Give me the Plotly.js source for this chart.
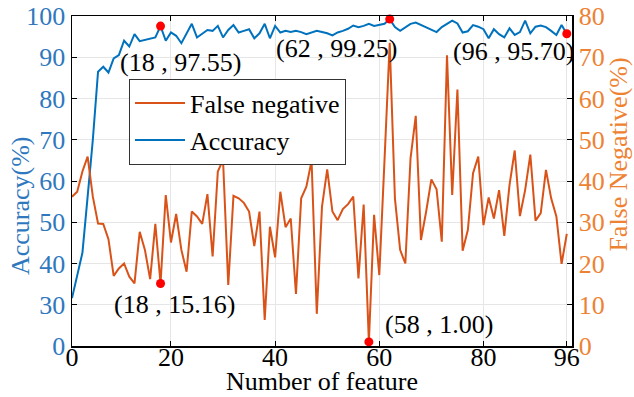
<!DOCTYPE html>
<html>
<head>
<meta charset="utf-8">
<script src="https://cdn.plot.ly/plotly-3.0.1.min.js"></script>
<style>html,body{margin:0;padding:0;background:#fff;}#chart{width:634px;height:397px;}</style>
</head>
<body>
<div id="chart"></div>
<script>
// Number of features (x) for each observation
const features = Array.from({length: 96}, (_, k) => k + 1);

// Accuracy (%)
const accuracy = [
  31.6, 36.8, 42.6, 56.2, 70.0, 86.5, 87.7, 86.3, 89.7, 90.5,
  94.0, 92.6, 95.6, 93.9, 94.2, 94.5, 94.8, 97.55, 94.0, 96.0,
  95.2, 93.4, 95.8, 98.1, 94.8, 95.6, 96.6, 96.4, 97.6, 94.8,
  96.6, 97.8, 96.0, 96.4, 96.8, 94.6, 95.8, 98.1, 94.6, 97.6,
  96.0, 96.4, 96.1, 96.4, 96.1, 95.6, 96.0, 96.4, 96.1, 95.8,
  95.3, 96.0, 96.4, 96.9, 97.7, 97.3, 97.6, 98.1, 97.6, 97.9,
  98.1, 99.25, 97.3, 96.4, 97.3, 98.1, 98.4, 97.8, 97.3, 96.8,
  96.1, 97.3, 98.2, 98.9, 98.2, 96.0, 96.3, 97.8, 97.4, 96.8,
  94.6, 96.8, 95.6, 94.8, 97.0, 95.4, 96.1, 98.9, 95.8, 97.4,
  97.7, 97.3, 96.4, 95.4, 97.8, 95.70
];

// False negative (%)
const falseNegative = [
  36.2, 37.4, 42.3, 45.9, 36.2, 29.7, 29.6, 25.9, 17.0, 18.8,
  20.0, 16.8, 15.2, 27.7, 23.3, 16.2, 29.6, 15.16, 36.6, 25.1,
  32.0, 23.3, 18.0, 32.6, 31.4, 29.6, 36.8, 21.7, 42.3, 45.1,
  14.8, 36.4, 35.8, 34.7, 32.6, 24.2, 32.6, 6.3, 28.9, 21.5,
  37.4, 28.8, 30.9, 12.6, 35.8, 38.6, 44.9, 7.8, 33.8, 42.8,
  32.6, 30.5, 33.2, 34.4, 36.2, 16.4, 34.3, 1.0, 31.8, 17.2,
  45.0, 73.5, 35.8, 23.3, 20.0, 45.5, 55.8, 25.7, 32.6, 40.4,
  38.0, 25.3, 70.5, 36.6, 62.2, 23.1, 28.1, 41.9, 45.9, 29.3,
  36.0, 30.9, 37.8, 26.7, 39.0, 47.4, 31.5, 37.8, 46.4, 30.4,
  32.2, 42.7, 35.8, 31.4, 19.9, 27.2
];

// Highlighted points
const accMarkX = [18, 62, 96];
const accMarkY = [97.55, 99.25, 95.70];
const fnMarkX = [18, 58];
const fnMarkY = [15.16, 1.00];

// Axis ticks
const xTickVals = [1, 20, 40, 60, 80, 96];
const xTickText = ['0', '20', '40', '60', '80', '96'];
const accTickVals = [20, 30, 40, 50, 60, 70, 80, 90, 100];
const accTickText = ['0', '30', '40', '50', '60', '70', '80', '90', '100'];
const fnTickVals = [0, 10, 20, 30, 40, 50, 60, 70, 80];

const BLUE = '#0072BD', ORANGE = '#D95319';
const BLUE_TXT = '#2F78BE', ORANGE_TXT = '#EE8233';
const FONT = '"Liberation Serif", "Times New Roman", serif';
const XRANGE = [1, 97];

const traces = [
  {x: features, y: falseNegative, yaxis: 'y2', type: 'scatter', mode: 'lines',
   name: 'False negative', line: {color: ORANGE, width: 2}},
  {x: features, y: accuracy, yaxis: 'y', type: 'scatter', mode: 'lines',
   name: 'Accuracy', line: {color: BLUE, width: 2}},
  {x: accMarkX, y: accMarkY, yaxis: 'y', type: 'scatter', mode: 'markers',
   showlegend: false, cliponaxis: false, marker: {color: '#FF0000', size: 9}},
  {x: fnMarkX, y: fnMarkY, xaxis: 'x2', yaxis: 'y2', type: 'scatter', mode: 'markers',
   showlegend: false, cliponaxis: false, marker: {color: '#FF0000', size: 9}}
];

const fmt = (x, y) => '(' + x + ' , ' + y.toFixed(2) + ')';
const accShift = [[20, -36], [-53, -29], [-53, -18]];
const fnShift = [[14, -21], [70, 17]];
const annotations = [];
accMarkX.forEach((x, k) => annotations.push({x: x, y: accMarkY[k], xref: 'x', yref: 'y',
  text: fmt(x, accMarkY[k]), showarrow: false, xshift: accShift[k][0], yshift: accShift[k][1],
  font: {family: FONT, size: 26, color: '#000'}}));
fnMarkX.forEach((x, k) => annotations.push({x: x, y: fnMarkY[k], xref: 'x', yref: 'y2',
  text: fmt(x, fnMarkY[k]), showarrow: false, xshift: fnShift[k][0], yshift: fnShift[k][1],
  font: {family: FONT, size: 26, color: '#000'}}));

// axis titles (placed as in the reference)
annotations.push({xref: 'paper', yref: 'paper', x: 0.5, y: -0.109,
  text: 'Number of feature', showarrow: false, xanchor: 'center', yanchor: 'middle',
  font: {family: FONT, size: 26, color: '#000'}});
annotations.push({xref: 'paper', yref: 'paper', x: -0.104, y: 0.424, textangle: -90,
  text: 'Accuracy(%)', showarrow: false, xanchor: 'center', yanchor: 'middle',
  font: {family: FONT, size: 26, color: BLUE_TXT}});
annotations.push({xref: 'paper', yref: 'paper', x: 1.094, y: 0.58, textangle: -90,
  text: 'False Negative(%)', showarrow: false, xanchor: 'center', yanchor: 'middle',
  font: {family: FONT, size: 26, color: ORANGE_TXT}});

const layout = {
  width: 634, height: 397,
  margin: {l: 72, r: 62, t: 16, b: 51},
  paper_bgcolor: '#fff', plot_bgcolor: '#fff',
  font: {family: FONT, size: 26, color: '#000'},
  showlegend: true,
  legend: {x: 0.114, y: 0.81, xanchor: 'left', yanchor: 'top',
    bgcolor: '#fff', bordercolor: '#333', borderwidth: 1, itemwidth: 50,
    font: {family: FONT, size: 26, color: '#000'}, traceorder: 'normal'},
  xaxis: {range: XRANGE, tickvals: xTickVals, ticktext: xTickText,
    ticks: 'inside', ticklen: 5, tickcolor: '#000', tickwidth: 1,
    showline: true, linecolor: '#000', linewidth: 1.5, mirror: 'ticks',
    showgrid: true, gridcolor: '#E6E6E6', gridwidth: 1, zeroline: false,
    showticklabels: false},
  xaxis2: {range: XRANGE, tickvals: xTickVals, ticktext: xTickText,
    overlaying: 'x', anchor: 'free', position: 0.021, side: 'bottom',
    ticks: '', showline: false, showgrid: false, zeroline: false,
    tickfont: {family: FONT, size: 26, color: '#000'}},
  yaxis: {range: [20, 100], tickvals: accTickVals, ticktext: accTickText,
    ticks: 'inside', ticklen: 5, tickcolor: '#000', tickwidth: 1,
    showline: true, linecolor: '#000', linewidth: 1.5, mirror: false,
    showgrid: true, gridcolor: '#E6E6E6', gridwidth: 1, zeroline: false,
    tickfont: {family: FONT, size: 26, color: BLUE_TXT}},
  yaxis2: {range: [0, 80], tickvals: fnTickVals, overlaying: 'y', side: 'right',
    ticks: 'inside', ticklen: 5, tickcolor: '#000', tickwidth: 1,
    showline: true, linecolor: '#000', linewidth: 1.5,
    showgrid: false, zeroline: false,
    tickfont: {family: FONT, size: 26, color: ORANGE_TXT}},
  annotations: annotations
};

Plotly.newPlot('chart', traces, layout, {displayModeBar: false, staticPlot: true});
</script>
</body>
</html>
